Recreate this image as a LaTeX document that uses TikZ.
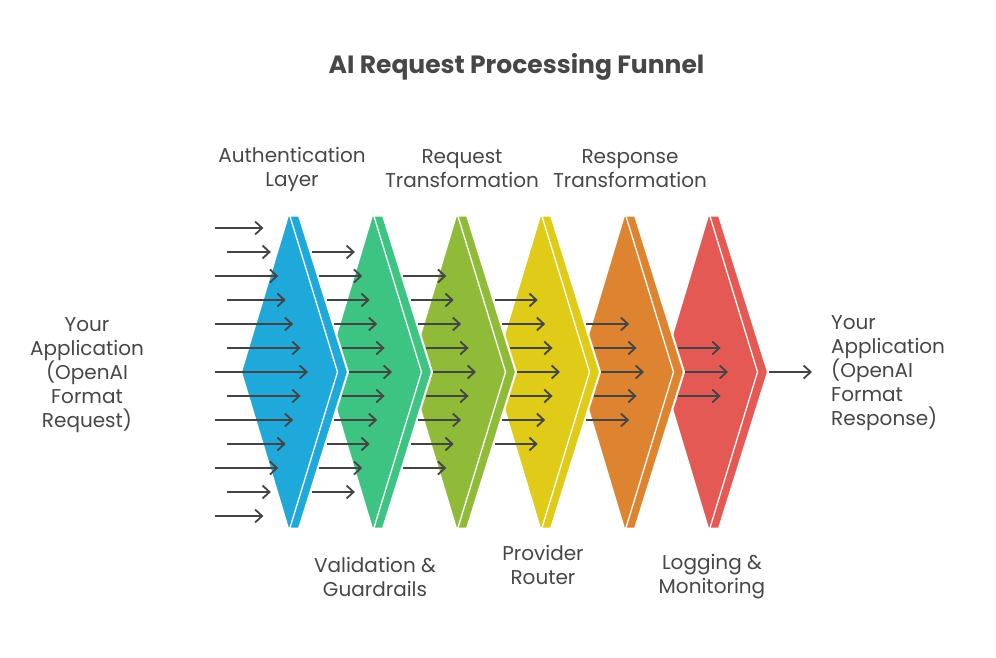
\documentclass[tikz,border=0pt]{standalone}
\usepackage{fontspec}
\setmainfont{Poppins}
\usetikzlibrary{arrows.meta}
\definecolor{cblue}{HTML}{1FA9DB}
\definecolor{cgreen}{HTML}{3DC482}
\definecolor{colive}{HTML}{90BB39}
\definecolor{cyellow}{HTML}{E0CB19}
\definecolor{corange}{HTML}{DE8430}
\definecolor{cred}{HTML}{E55955}
\definecolor{txtgray}{HTML}{474747}
\definecolor{arrgray}{HTML}{444444}
\tikzset{
  stage/.style={draw=white, line width=2pt, line join=round},
  bandline/.style={draw=white, line width=1.3pt},
  flowarrow/.style={draw=arrgray, line width=1.8pt, -{Straight Barb[length=7pt,width=13pt]}},
  lbl/.style={text=txtgray, align=center, inner sep=0pt, font=\fontsize{20}{24}\selectfont},
}
\begin{document}
\begin{tikzpicture}[x=1pt,y=-1pt]
\useasboundingbox (0,0) rectangle (996,658);
\fill[white] (0,0) rectangle (996,658);
% stages, drawn right to left so the left ones overlap
\foreach \i/\c in {5/cred,4/corange,3/cyellow,2/colive,1/cgreen,0/cblue}{
  \pgfmathsetmacro{\T}{288+84*\i}
  \path[stage, fill=\c] (\T-47,372) -- (\T,215.5) -- (\T+11,215.5) -- (\T+60,372) -- (\T+11,528.5) -- (\T,528.5) -- cycle;
  \path[bandline] (\T+1,213) -- (\T+49.5,372) -- (\T+1,531);
}
% first column of incoming arrows
\foreach \k in {-6,...,6}{
  \pgfmathsetmacro{\a}{abs(\k)}
  \pgfmathsetmacro{\xs}{ifthenelse(mod(\a,2)==0,215,227)}
  \pgfmathsetmacro{\xe}{308-7.43*\a}
  \coordinate (s0\k) at (\xs,372+24*\k);
  \coordinate (e0\k) at (\xe,372+24*\k);
  \draw[flowarrow] (s0\k) -- (e0\k);
}
% arrows after each stage
\foreach \j in {1,...,6}{
  \pgfmathtruncatemacro{\n}{6-\j}
  \foreach \k in {-6,...,6}{
    \pgfmathtruncatemacro{\a}{abs(\k)}
    \ifnum\a>\n\relax\else
      \pgfmathsetmacro{\xs}{349+84*(\j-1)-7.43*\a}
      \coordinate (s\j\k) at (\xs,372+24*\k);
      \coordinate (e\j\k) at (\xs+43,372+24*\k);
      \draw[flowarrow] (s\j\k) -- (e\j\k);
    \fi
  }
}
% texts
\node[text=txtgray, inner sep=0pt, font=\bfseries\fontsize{25}{30}\selectfont] (title) at (516.5,67) {AI Request Processing Funnel};
\node[lbl] (inapp) at (87,375) {Your\\Application\\(OpenAI\\Format\\Request)};
\node[lbl, align=left, anchor=west] (outapp) at (831,373) {Your\\Application\\(OpenAI\\Format\\Response)};
\node[lbl] (auth) at (292,169) {Authentication\\Layer};
\node[lbl] (reqt) at (462,169) {Request\\Transformation};
\node[lbl] (rest) at (630,169) {Response\\Transformation};
\node[lbl] (valid) at (375,577) {Validation \&\\Guardrails};
\node[lbl] (prov) at (543,565) {Provider\\Router};
\node[lbl] (logm) at (712,577) {Logging \&\\Monitoring};
\end{tikzpicture}
\end{document}
